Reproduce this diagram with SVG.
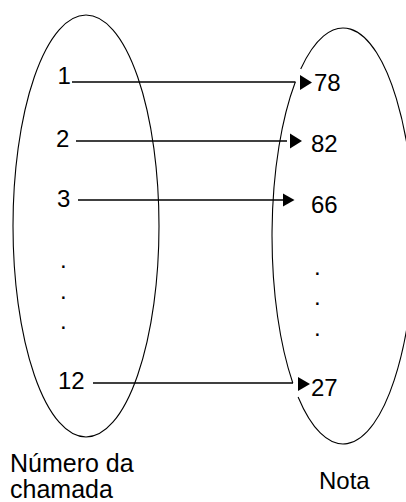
<svg xmlns="http://www.w3.org/2000/svg" width="406" height="502" viewBox="0 0 406 502">
<style>
.set{fill:none;stroke:#000;stroke-width:1.1}
.t{font-family:"Liberation Sans",Arial,sans-serif;font-size:24px;fill:#000}
.c{stroke:#000;stroke-width:1.3;fill:none}
.ah{fill:#000}
</style>
<rect width="406" height="502" fill="#fff"/>
<g id="set-numero">
<ellipse class="set" cx="86" cy="226" rx="73" ry="211"/>
</g>
<g id="set-nota">
<path class="set" d="M295.3 82 A71 208 0 0 0 292.8 383 M298.1 397 A71 208 0 1 0 300.7 69"/>
</g>
<g id="n1"><text class="t" x="57.5" y="84">1</text></g>
<g id="n2"><text class="t" x="56" y="147">2</text></g>
<g id="n3"><text class="t" x="57" y="207">3</text></g>
<g id="ndots"><text class="t" x="60" y="268">.</text><text class="t" x="60" y="299">.</text><text class="t" x="60" y="329">.</text></g>
<g id="n12"><text class="t" x="58" y="389">12</text></g>
<g id="v78"><text class="t" x="314" y="90.5">78</text></g>
<g id="v82"><text class="t" x="311" y="152">82</text></g>
<g id="v66"><text class="t" x="311" y="213">66</text></g>
<g id="vdots"><text class="t" x="314" y="275">.</text><text class="t" x="314" y="305">.</text><text class="t" x="314" y="336">.</text></g>
<g id="v27"><text class="t" x="311" y="396">27</text></g>
<g id="connectors">
<line class="c" x1="72" y1="82" x2="295.5" y2="82"/>
<polygon class="ah" points="300,75 312,82.5 300,90"/>
<line class="c" x1="76" y1="141" x2="287" y2="141"/>
<polygon class="ah" points="290,133.5 302,141 290,148.5"/>
<line class="c" x1="78" y1="200" x2="283" y2="200"/>
<polygon class="ah" points="283,193.5 294.5,200 283,206.5"/>
<line class="c" x1="93" y1="383" x2="293" y2="383"/>
<polygon class="ah" points="298,377 310,384 298,391"/>
</g>
<g id="label-numero"><text class="t" x="10" y="472" style="font-size:25px">Número da</text><text class="t" x="10" y="498" style="font-size:25px">chamada</text></g>
<g id="label-nota"><text class="t" x="319" y="488.5">Nota</text></g>
</svg>
